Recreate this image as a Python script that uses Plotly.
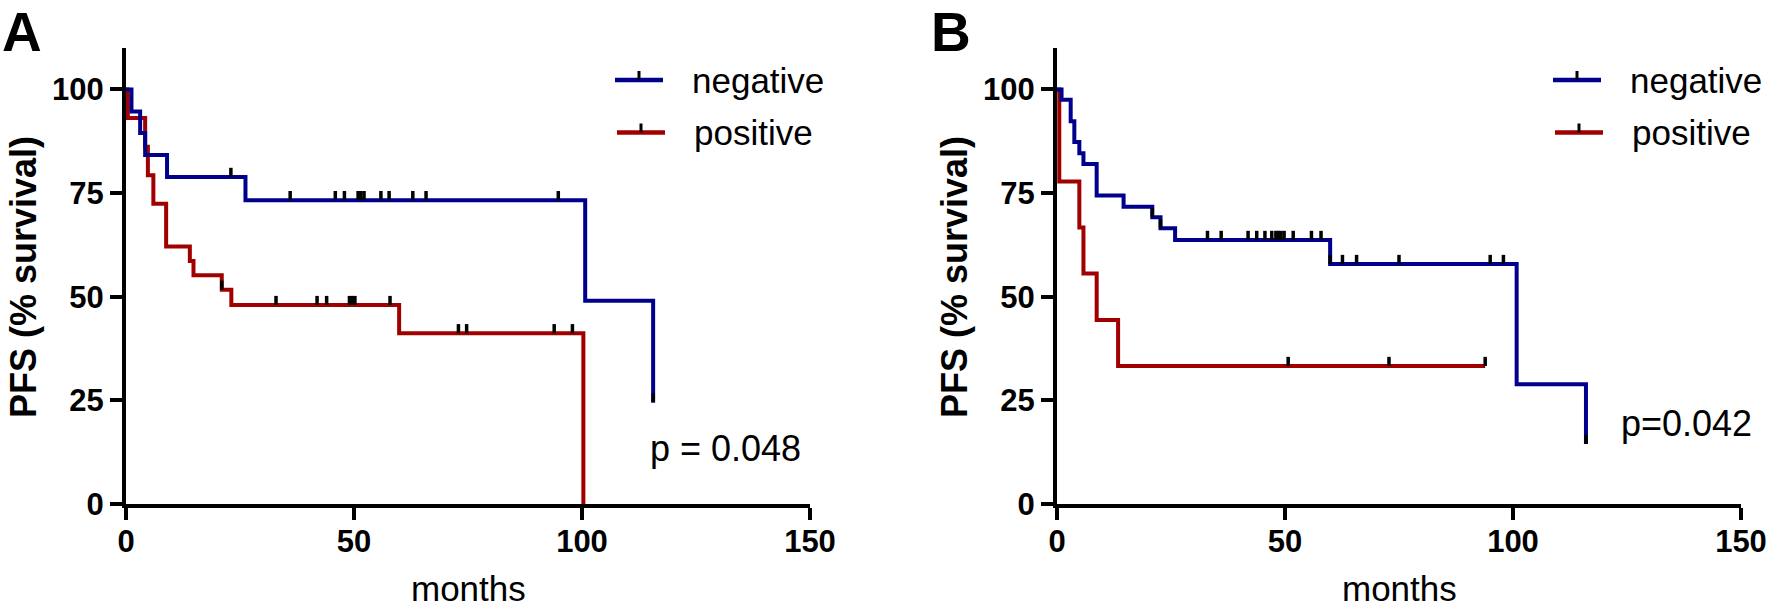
import plotly.graph_objects as go

W, H = 1770, 609

# ---------------- data ----------------
# Panel A
negA_t = [0, 1.2, 3.1, 4.2, 9.0, 26.2, 100.7, 115.6]
negA_s = [100, 94.7, 89.5, 84.2, 78.9, 73.3, 49.0, 24.5]
negA_cens = [23.0, 36.0, 45.9, 47.9, 50.9, 51.5, 52.2, 55.9, 57.7, 62.9, 65.8, 94.8, 115.6]

posA_t = [0, 0.4, 4.2, 4.8, 6.0, 8.8, 14.0, 14.8, 21.0, 23.1, 59.9, 100.3]
posA_s = [100, 93.1, 86.2, 79.3, 72.4, 62.1, 58.6, 55.2, 51.7, 48.0, 41.2, 0]
posA_cens = [21.0, 32.9, 41.9, 44.0, 49.0, 49.6, 50.2, 57.9, 72.9, 74.7, 93.9, 97.9]

# Panel B
negB_t = [0, 1.0, 3.0, 3.8, 4.9, 5.8, 8.7, 14.6, 20.9, 22.7, 25.9, 59.9, 100.8, 116.0]
negB_s = [100, 97.5, 92.3, 87.3, 84.6, 82.0, 74.4, 71.7, 69.2, 66.5, 63.7, 57.9, 28.9, 14.5]
negB_cens = [20.9, 22.7, 33.0, 36.0, 41.9, 43.8, 45.6, 47.1, 48.0, 48.5, 49.1, 49.8,
             51.8, 55.8, 57.9, 59.9, 62.6, 65.7, 75.0, 95.0, 97.9, 116.0]

posB_t = [0, 0.5, 4.9, 5.8, 8.7, 13.4, 93.9]
posB_s = [100, 77.8, 66.7, 55.6, 44.4, 33.3, 33.3]
posB_cens = [50.7, 72.8, 93.9]

series_names = ["negative", "positive"]
p_texts = ["p = 0.048", "p=0.042"]
panel_labels = ["A", "B"]
x_ticks = [0, 50, 100, 150]
y_ticks = [0, 25, 50, 75, 100]

BLUE = "#00008C"
RED = "#A00000"
FONT = "Liberation Sans, Arial, sans-serif"


def step_value(times, surv, t):
    v = surv[0]
    for ti, si in zip(times, surv):
        if ti <= t:
            v = si
    return v


fig = go.Figure()

panels = [
    dict(xa="x", ya="y", neg=(negA_t, negA_s, negA_cens), pos=(posA_t, posA_s, posA_cens)),
    dict(xa="x2", ya="y2", neg=(negB_t, negB_s, negB_cens), pos=(posB_t, posB_s, posB_cens)),
]

for p in panels:
    for (t, s, c), col in [(p["pos"], RED), (p["neg"], BLUE)]:
        fig.add_trace(go.Scatter(x=t, y=s, mode="lines", line=dict(color=col, width=4, shape="hv"),
                                 xaxis=p["xa"], yaxis=p["ya"], showlegend=False, hoverinfo="skip"))
    for (t, s, c) in [p["pos"], p["neg"]]:
        cy = [step_value(t, s, ci) for ci in c]
        fig.add_trace(go.Scatter(x=c, y=cy, mode="markers",
                                 marker=dict(size=1, color="rgba(0,0,0,0)"),
                                 error_y=dict(type="data", symmetric=False, array=[2.2] * len(c),
                                              arrayminus=[0] * len(c), color="black", thickness=3.5, width=0),
                                 xaxis=p["xa"], yaxis=p["ya"], showlegend=False, hoverinfo="skip"))

# pixel layout helpers
def px(x):
    return x / W

def py(y):
    return 1 - y / H

xdomA = [px(126), px(810)]
xdomB = [px(1057), px(1741)]
ydom = [py(504), py(48)]

axis_common = dict(showline=True, linecolor="black", linewidth=4, ticks="outside", ticklen=12,
                   tickwidth=4, tickcolor="black", showgrid=False, zeroline=False, automargin=False,
                   tickfont=dict(family=FONT, size=31, color="black", weight="bold"))

fig.update_layout(
    template="none",
    width=W, height=H, margin=dict(l=0, r=0, t=0, b=0, pad=0),
    paper_bgcolor="white", plot_bgcolor="white",
    xaxis=dict(domain=xdomA, range=[0, 150], tickvals=x_ticks, anchor="y", ticklabelstandoff=-5, **axis_common),
    yaxis=dict(domain=ydom, range=[0, 110], tickvals=y_ticks, anchor="x", **axis_common),
    xaxis2=dict(domain=xdomB, range=[0, 150], tickvals=x_ticks, anchor="y2", ticklabelstandoff=-5, **axis_common),
    yaxis2=dict(domain=ydom, range=[0, 110], tickvals=y_ticks, anchor="x2", **axis_common),
)

annotations = []
shapes = []
for i, (dom, ptxt, plab) in enumerate([(xdomA, p_texts[0], panel_labels[0]),
                                        (xdomB, p_texts[1], panel_labels[1])]):
    x0px = dom[0] * W
    # y title
    annotations.append(dict(text="PFS (% survival)", x=px(x0px - 103), y=py(277), xref="paper", yref="paper",
                            textangle=-90, showarrow=False, xanchor="center", yanchor="middle",
                            font=dict(family=FONT, size=36, color="black", weight="bold")))
    # x title
    annotations.append(dict(text="months", x=(dom[0] + dom[1]) / 2, y=0.0, xref="paper", yref="paper",
                            showarrow=False, xanchor="center", yanchor="bottom", borderpad=0,
                            font=dict(family=FONT, size=35, color="black")))
    # panel label
    annotations.append(dict(text=plab, x=px(x0px - 126 + (1 if i == 0 else -1)), y=1.0, xref="paper",
                            yref="paper", showarrow=False, xanchor="left", yanchor="top", borderpad=0,
                            font=dict(family=FONT, size=55, color="black", weight="bold")))
    # p value
    annotations.append(dict(text=ptxt, x=px(x0px + (522 if i == 0 else 562)), y=py(448 if i == 0 else 423),
                            xref="paper", yref="paper", showarrow=False, xanchor="left", yanchor="middle",
                            font=dict(family=FONT, size=36, color="black")))
    # legend
    leg_x0 = x0px + (489 if i == 0 else 496)
    for j, (name, col) in enumerate(zip(series_names, [BLUE, RED])):
        ly = 80 + j * 52.5
        lx0 = leg_x0 + j * 2
        shapes.append(dict(type="line", xref="paper", yref="paper", x0=px(lx0), x1=px(lx0 + 48),
                           y0=py(ly), y1=py(ly), line=dict(color=col, width=4.5)))
        shapes.append(dict(type="line", xref="paper", yref="paper", x0=px(lx0 + 24), x1=px(lx0 + 24),
                           y0=py(ly), y1=py(ly - 9), line=dict(color="black", width=3)))
        annotations.append(dict(text=name, x=px(lx0 + 75), y=py(ly), xref="paper", yref="paper",
                                showarrow=False, xanchor="left", yanchor="middle",
                                font=dict(family=FONT, size=35, color="black")))

fig.update_layout(annotations=annotations, shapes=shapes)

fig.write_html("out.html", config={"displayModeBar": False},
               post_script="document.body.style.margin='0';document.body.style.overflow='hidden';")
